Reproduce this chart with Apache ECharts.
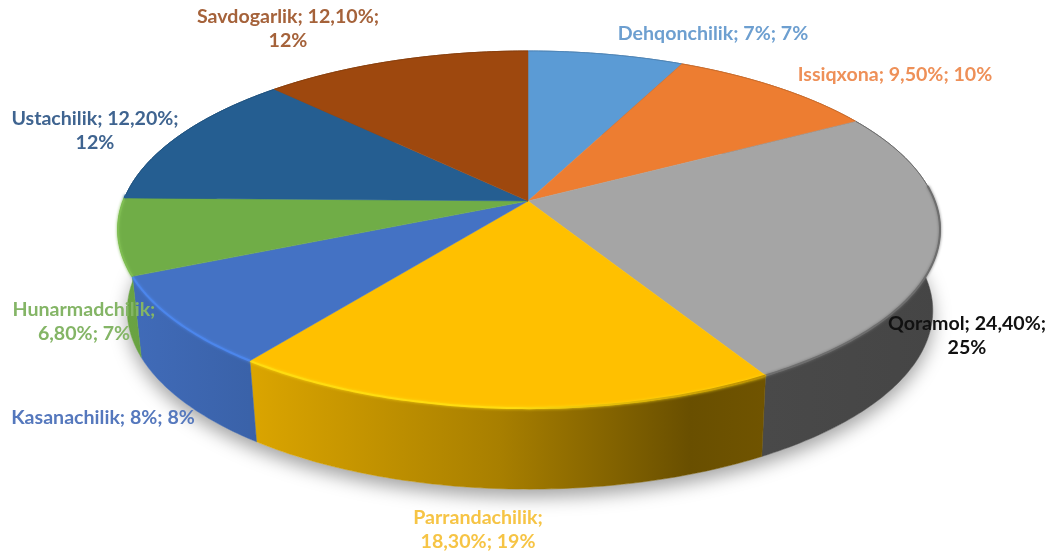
<!DOCTYPE html>
<html>
<head>
<meta charset="utf-8">
<style>html,body{margin:0;padding:0;background:#fff}#chart{width:1048px;height:553px}</style>
<script src="https://cdn.jsdelivr.net/npm/echarts@6/dist/echarts.min.js"></script>
</head>
<body>
<div id="chart"></div>
<script>
// Sector shares, clockwise from twelve o'clock
const categories = ['Dehqonchilik', 'Issiqxona', 'Qoramol', 'Parrandachilik', 'Kasanachilik', 'Hunarmadchilik', 'Ustachilik', 'Savdogarlik'];
const shares = [7, 9.5, 24.4, 18.3, 8, 6.8, 12.2, 12.1];

const faceColors = ['#5B9BD5', '#ED7D31', '#A5A5A5', '#FFC000', '#4472C4', '#70AD47', '#255E91', '#9E480E'];
const rimColors = ['#5B9BD5', '#ED7D31', '#6e6e6e', '#FFDC10', '#4C86EC', '#7FBD52', '#255E91', '#9E480E'];
const textColors = ['#6d9fd0', '#ee9058', '#111111', '#f6c445', '#5578bd', '#84b566', '#3f6490', '#a5623a'];

// Text placement: centre x, first line y, and which "; " part the line break follows
const labelCentres = [[713, 33], [895, 74], [967, 323], [478, 517], [103, 417], [84, 309], [95, 118], [288, 16]];
const labelBreaks = [0, 0, 2, 1, 0, 1, 2, 2];

// Perspective disc: the hub sits above the middle of the drawn ellipse
const disc = { cx: 528, cy: 201, a: 406.7, leftScale: 0.995, b: 174, k: 0.16, depth: 81, shrink: 0.98, shiftX: 1 };
// Only the part of the rim facing the viewer catches the bevel
const bevelFrom = 85 * Math.PI / 180, bevelTo = 272 * Math.PI / 180;

const total = shares.reduce((s, v) => s + v, 0);
const startShare = shares.map((_, i) => shares.slice(0, i).reduce((s, v) => s + v, 0));

function topPoint(theta) {
  const u = Math.sin(theta), v = -Math.cos(theta), w = 1 - disc.k * v;
  const a = u < 0 ? disc.a * disc.leftScale : disc.a;
  return [disc.cx + a * u / w, disc.cy + disc.b * v / w];
}
function bottomPoint(theta) {
  const p = topPoint(theta);
  return [disc.cx + (p[0] - disc.cx) * disc.shrink + disc.shiftX, p[1] + disc.depth];
}
function arc(from, to, fn) {
  const n = Math.max(2, Math.ceil((to - from) / 0.015));
  const pts = [];
  for (let j = 0; j <= n; j++) pts.push(fn(from + (to - from) * j / n));
  return pts;
}
function range(i, value) {
  const from = startShare[i] / total * Math.PI * 2;
  return [from, from + value / total * Math.PI * 2];
}
function shade(hex, f) {
  const n = parseInt(hex.slice(1), 16);
  const c = [n >> 16, (n >> 8) & 255, n & 255].map(x => Math.round(x * f));
  return 'rgb(' + c.join(',') + ')';
}
// Light falls from the left across the outer wall
const wallLight = [[120, 0.95], [250, 0.86], [500, 0.66], [690, 0.41], [765, 0.44], [940, 0.42]];
function wallFill(hex) {
  const x0 = wallLight[0][0], x1 = wallLight[wallLight.length - 1][0];
  return {
    type: 'linear', x: x0, y: 0, x2: x1, y2: 0, global: true,
    colorStops: wallLight.map(s => ({ offset: (s[0] - x0) / (x1 - x0), color: shade(hex, s[1]) }))
  };
}
// The bevel fades out toward the unlit side
function bevelStroke(i) {
  const end = i === 2 ? rimColors[i] : shade(faceColors[i], 0.72);
  return {
    type: 'linear', x: 250, y: 0, x2: 780, y2: 0, global: true,
    colorStops: [
      { offset: 0, color: rimColors[i] },
      { offset: 0.5, color: rimColors[i] },
      { offset: 1, color: end }
    ]
  };
}
function valueText(v) {
  return Number.isInteger(v) ? v + '%' : v.toFixed(2).replace('.', ',') + '%';
}
function labelText(i) {
  const parts = [categories[i], valueText(shares[i]), Math.round(shares[i] / total * 100) + '%'];
  const brk = labelBreaks[i];
  if (!brk) return parts.join('; ');
  return parts.slice(0, brk).join('; ') + ';\n' + parts.slice(brk).join('; ');
}

const sliceData = categories.map((name, i) => ({ name, value: shares[i] }));

const option = {
  backgroundColor: '#ffffff',
  animation: false,
  series: [
    {
      // Soft ground shadow beneath the disc
      type: 'custom', coordinateSystem: 'none', silent: true,
      data: [total],
      renderItem() {
        return {
          type: 'polygon', silent: true,
          shape: { points: arc(0, Math.PI * 2, bottomPoint) },
          style: { fill: '#ffffff', shadowColor: 'rgba(0,0,0,0.36)', shadowBlur: 18, shadowOffsetY: 8 }
        };
      }
    },
    {
      // Outer wall of each sector
      type: 'custom', coordinateSystem: 'none', silent: true,
      data: sliceData,
      renderItem(params, api) {
        const i = params.dataIndex, r = range(i, api.value(0));
        const pts = arc(r[0], r[1], topPoint).concat(arc(r[0], r[1], bottomPoint).reverse());
        const fill = wallFill(faceColors[i]);
        return { type: 'polygon', shape: { points: pts }, style: { fill, stroke: fill, lineWidth: 0.5 } };
      }
    },
    {
      // Top faces, a thin edge line, and the bright bevel on the front of the rim
      type: 'custom', coordinateSystem: 'none', silent: true,
      data: sliceData,
      renderItem(params, api) {
        const i = params.dataIndex, r = range(i, api.value(0));
        const outer = arc(r[0], r[1], topPoint);
        const children = [
          { type: 'polygon', shape: { points: [[disc.cx, disc.cy]].concat(outer) },
            style: { fill: faceColors[i], stroke: faceColors[i], lineWidth: 0.5 } },
          { type: 'polyline', shape: { points: outer },
            style: { fill: null, stroke: shade(faceColors[i], i === 2 ? 0.62 : 0.86), lineWidth: 0.9 } }
        ];
        const a0 = Math.max(r[0], bevelFrom), a1 = Math.min(r[1], bevelTo);
        if (a1 > a0) {
          children.push({ type: 'polyline', shape: { points: arc(a0, a1, topPoint) },
            style: { fill: null, stroke: bevelStroke(i), lineWidth: 2, shadowBlur: 3, shadowColor: rimColors[i] } });
        }
        return { type: 'group', children };
      }
    },
    {
      // Sector captions
      type: 'custom', coordinateSystem: 'none', silent: true,
      data: sliceData,
      renderItem(params) {
        const i = params.dataIndex, c = labelCentres[i];
        return {
          type: 'text',
          style: {
            x: c[0], y: c[1] - 12, text: labelText(i), align: 'center', verticalAlign: 'top',
            font: 'bold 19.6px Lato', lineHeight: 24.5, fill: textColors[i]
          }
        };
      }
    }
  ]
};

const chart = echarts.init(document.getElementById('chart'), null, { renderer: 'canvas' });
chart.setOption(option);
</script>
</body>
</html>
